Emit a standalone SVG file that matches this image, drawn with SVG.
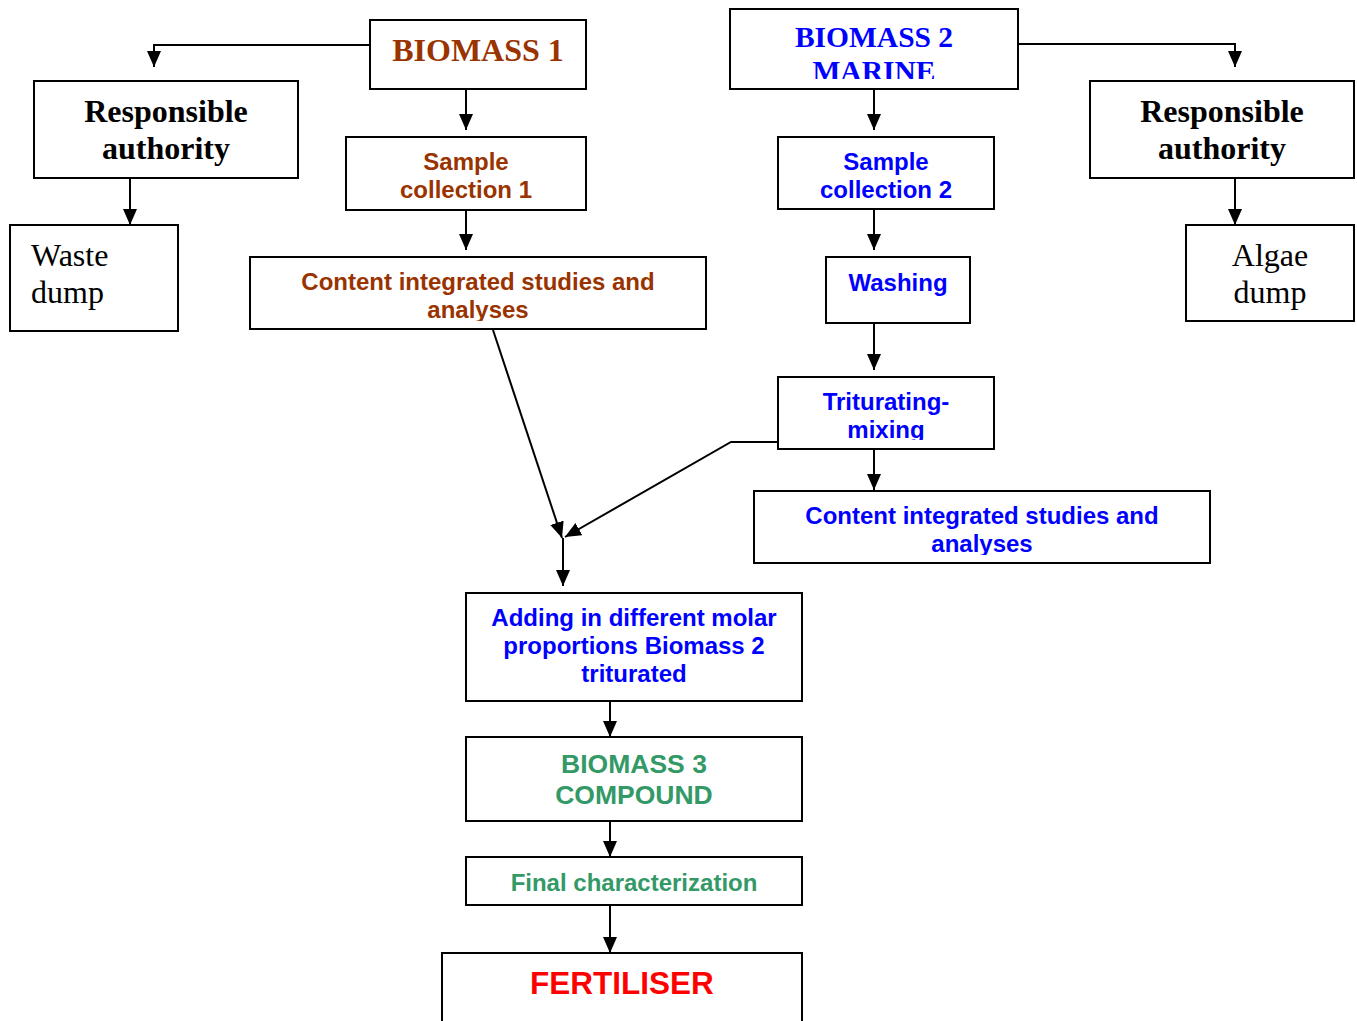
<svg xmlns="http://www.w3.org/2000/svg" width="1357" height="1021" viewBox="0 0 1357 1021">
<style>
.box{fill:#fff;stroke:#000;stroke-width:2}
.ser{font-family:"Liberation Serif","Times New Roman",serif}
.san{font-family:"Liberation Sans",Arial,sans-serif;font-weight:bold}
.b{font-weight:bold}
.c{text-anchor:middle}
.brown{fill:#993300}
.blue{fill:#0000FF}
.green{fill:#339966}
.red{fill:#FF0000}
.ln{fill:none;stroke:#000;stroke-width:2}
</style>
<defs>
<marker id="ah" viewBox="0 0 16 14" refX="16" refY="7" markerWidth="16" markerHeight="14" markerUnits="userSpaceOnUse" orient="auto">
<path d="M0,0 L16,7 L0,14 z" fill="#000"/>
</marker>
<clipPath id="cpB2"><rect x="730" y="9" width="288" height="70"/></clipPath>
<clipPath id="cpC1"><rect x="250" y="257" width="456" height="64"/></clipPath>
<clipPath id="cpT"><rect x="778" y="377" width="216" height="63"/></clipPath>
<clipPath id="cpC2"><rect x="754" y="491" width="456" height="64"/></clipPath>
</defs>

<g id="connectors">
<polyline class="ln" points="370,45 154,45 154,67" marker-end="url(#ah)"/>
<line class="ln" x1="466" y1="89" x2="466" y2="130" marker-end="url(#ah)"/>
<line class="ln" x1="466" y1="210" x2="466" y2="250" marker-end="url(#ah)"/>
<line class="ln" x1="130" y1="178" x2="130" y2="225" marker-end="url(#ah)"/>
<polyline class="ln" points="1018,44 1235,44 1235,67" marker-end="url(#ah)"/>
<line class="ln" x1="874" y1="89" x2="874" y2="130" marker-end="url(#ah)"/>
<line class="ln" x1="874" y1="209" x2="874" y2="250" marker-end="url(#ah)"/>
<line class="ln" x1="874" y1="323" x2="874" y2="370" marker-end="url(#ah)"/>
<line class="ln" x1="1235" y1="178" x2="1235" y2="225" marker-end="url(#ah)"/>
<line class="ln" x1="874" y1="449" x2="874" y2="490" marker-end="url(#ah)"/>
<line class="ln" x1="493" y1="330" x2="562" y2="538" marker-end="url(#ah)"/>
<polyline class="ln" points="778,442 731,442 565,537" marker-end="url(#ah)"/>
<line class="ln" x1="563" y1="538" x2="563" y2="586" marker-end="url(#ah)"/>
<line class="ln" x1="610" y1="690" x2="610" y2="737" marker-end="url(#ah)"/>
<line class="ln" x1="610" y1="810" x2="610" y2="857" marker-end="url(#ah)"/>
<line class="ln" x1="610" y1="905" x2="610" y2="953" marker-end="url(#ah)"/>
</g>

<g id="biomass1">
<rect class="box" x="370" y="20" width="216" height="69"/>
<text class="ser b c brown" x="478" y="61" font-size="32">BIOMASS 1</text>
</g>

<g id="resp-left">
<rect class="box" x="34" y="81" width="264" height="97"/>
<text class="ser b c" x="166" y="122" font-size="32">Responsible</text>
<text class="ser b c" x="166" y="159" font-size="32">authority</text>
</g>

<g id="waste-dump">
<rect class="box" x="10" y="225" width="168" height="106"/>
<text class="ser" x="31" y="266" font-size="32">Waste</text>
<text class="ser" x="31" y="303" font-size="32">dump</text>
</g>

<g id="sample1">
<rect class="box" x="346" y="137" width="240" height="73"/>
<text class="san c brown" x="466" y="170" font-size="24">Sample</text>
<text class="san c brown" x="466" y="198" font-size="24">collection 1</text>
</g>

<g id="content1">
<rect class="box" x="250" y="257" width="456" height="72"/>
<g clip-path="url(#cpC1)">
<text class="san c brown" x="478" y="290" font-size="24">Content integrated studies and</text>
<text class="san c brown" x="478" y="318" font-size="24">analyses</text>
</g>
</g>

<g id="biomass2">
<rect class="box" x="730" y="9" width="288" height="80"/>
<g clip-path="url(#cpB2)">
<text class="ser b c blue" x="874" y="47" font-size="29.5">BIOMASS 2</text>
<text class="ser b c blue" x="874" y="81" font-size="29.5">MARINE</text>
</g>
</g>

<g id="resp-right">
<rect class="box" x="1090" y="81" width="264" height="97"/>
<text class="ser b c" x="1222" y="122" font-size="32">Responsible</text>
<text class="ser b c" x="1222" y="159" font-size="32">authority</text>
</g>

<g id="algae-dump">
<rect class="box" x="1186" y="225" width="168" height="96"/>
<text class="ser c" x="1270" y="266" font-size="32">Algae</text>
<text class="ser c" x="1270" y="303" font-size="32">dump</text>
</g>

<g id="sample2">
<rect class="box" x="778" y="137" width="216" height="72"/>
<text class="san c blue" x="886" y="170" font-size="24">Sample</text>
<text class="san c blue" x="886" y="198" font-size="24">collection 2</text>
</g>

<g id="washing">
<rect class="box" x="826" y="257" width="144" height="66"/>
<text class="san c blue" x="898" y="291" font-size="24">Washing</text>
</g>

<g id="triturating">
<rect class="box" x="778" y="377" width="216" height="72"/>
<g clip-path="url(#cpT)">
<text class="san c blue" x="886" y="410" font-size="24">Triturating-</text>
<text class="san c blue" x="886" y="438" font-size="24">mixing</text>
</g>
</g>

<g id="content2">
<rect class="box" x="754" y="491" width="456" height="72"/>
<g clip-path="url(#cpC2)">
<text class="san c blue" x="982" y="524" font-size="24">Content integrated studies and</text>
<text class="san c blue" x="982" y="552" font-size="24">analyses</text>
</g>
</g>

<g id="adding">
<rect class="box" x="466" y="593" width="336" height="108"/>
<text class="san c blue" x="634" y="626" font-size="24">Adding in different molar</text>
<text class="san c blue" x="634" y="654" font-size="24">proportions Biomass 2</text>
<text class="san c blue" x="634" y="682" font-size="24">triturated</text>
</g>

<g id="biomass3">
<rect class="box" x="466" y="737" width="336" height="84"/>
<text class="san c green" x="634" y="773" font-size="26.5">BIOMASS 3</text>
<text class="san c green" x="634" y="804" font-size="26.5">COMPOUND</text>
</g>

<g id="final">
<rect class="box" x="466" y="857" width="336" height="48"/>
<text class="san c green" x="634" y="891" font-size="24">Final characterization</text>
</g>

<g id="fertiliser">
<rect class="box" x="442" y="953" width="360" height="80"/>
<text class="san c red" x="622" y="994" font-size="31.5">FERTILISER</text>
</g>
</svg>
